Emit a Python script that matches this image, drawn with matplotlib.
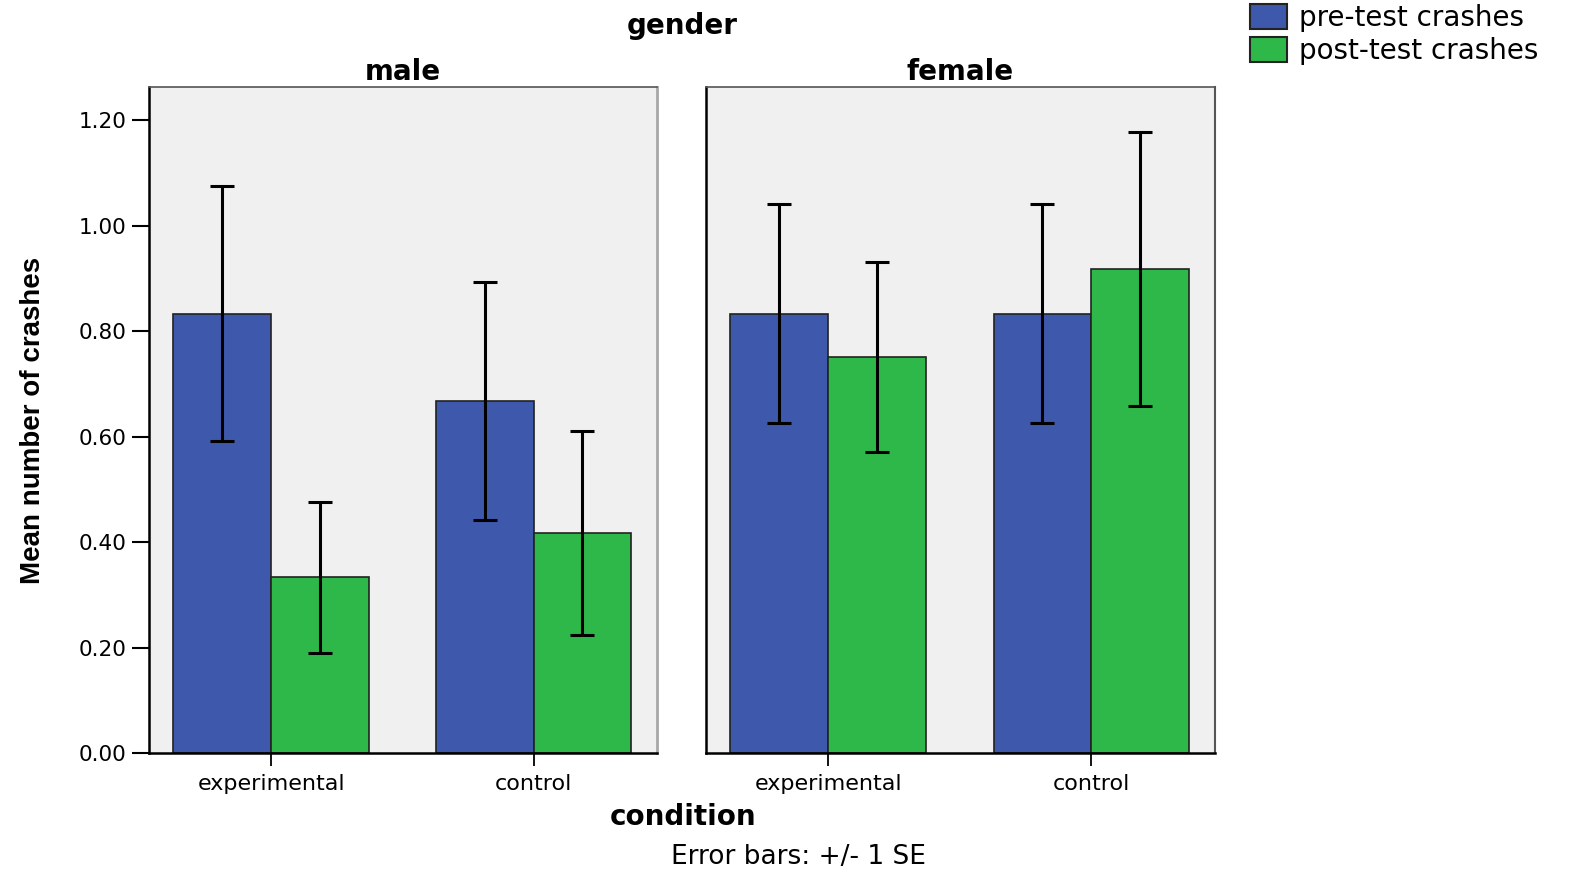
import numpy as np
import matplotlib
matplotlib.use("Agg")
import matplotlib.pyplot as plt
from matplotlib.patches import Patch

# data
genders = ["male", "female"]
conditions = ["experimental", "control"]
pre_means = {"male": [0.833, 0.667], "female": [0.833, 0.833]}
post_means = {"male": [0.333, 0.417], "female": [0.750, 0.917]}
pre_se = {"male": [0.241, 0.225], "female": [0.207, 0.207]}
post_se = {"male": [0.143, 0.193], "female": [0.180, 0.260]}
yticks = [0.0, 0.2, 0.4, 0.6, 0.8, 1.0, 1.2]

blue = "#3E58AC"
green = "#2FB84A"
panel_bg = "#F0F0F0"

plt.rcParams["font.family"] = ["DejaVu Sans"]

fig = plt.figure(figsize=(15.81, 8.69), dpi=100)
W, H = 1581, 869
bottom, top = 753, 87
axes = []
for left_px, right_px in [(149, 657), (706, 1215)]:
    ax = fig.add_axes([left_px / W, 1 - bottom / H, (right_px - left_px) / W, (bottom - top) / H])
    axes.append(ax)

x = np.arange(len(conditions))
bw = 0.372
for i, (ax, g) in enumerate(zip(axes, genders)):
    ax.set_facecolor(panel_bg)
    ax.bar(x - bw / 2, pre_means[g], bw, color=blue, edgecolor="#222222", linewidth=1.2, zorder=2)
    ax.bar(x + bw / 2, post_means[g], bw, color=green, edgecolor="#222222", linewidth=1.2, zorder=2)
    ax.errorbar(x - bw / 2, pre_means[g], yerr=pre_se[g], fmt="none", ecolor="black",
                elinewidth=2.2, capsize=8.5, capthick=2.2, zorder=3)
    ax.errorbar(x + bw / 2, post_means[g], yerr=post_se[g], fmt="none", ecolor="black",
                elinewidth=2.2, capsize=8.5, capthick=2.2, zorder=3)
    ax.set_xlim(-0.465, 1.47)
    ax.set_ylim(0, 1.2626)
    ax.set_xticks(x)
    ax.set_xticklabels(conditions, fontsize=16)
    ax.tick_params(axis="x", length=9, width=1.3, pad=6)
    ax.set_title(g, fontsize=20, fontweight="bold", pad=5)
    ax.spines["bottom"].set_linewidth(1.8)
    ax.spines["top"].set_color("#555555")
    ax.spines["top"].set_linewidth(1.2)
    if i == 0:
        ax.set_yticks(yticks)
        ax.set_yticklabels([f"{v:.2f}" for v in yticks], fontsize=15.5)
        ax.tick_params(axis="y", length=12, width=1.5, pad=4)
        ax.spines["left"].set_linewidth(1.8)
        ax.spines["right"].set_color("#A8A8A8")
        ax.spines["right"].set_linewidth(2)
    else:
        ax.set_yticks([])
        ax.spines["left"].set_linewidth(1.8)
        ax.spines["right"].set_color("#555555")
        ax.spines["right"].set_linewidth(1.5)

fig.text(33 / W, 1 - 420 / H, "Mean number of crashes", rotation=90, ha="center",
         va="center", fontsize=20, fontweight="bold", family="Liberation Sans")
fig.text(682 / W, 1 - 26 / H, "gender", ha="center", va="center", fontsize=20,
         fontweight="bold")
fig.text(683 / W, 1 - 817 / H, "condition", ha="center", va="center", fontsize=20,
         fontweight="bold")
fig.text(798 / W, 1 - 857 / H, "Error bars: +/- 1 SE", ha="center", va="center",
         fontsize=19)

handles = [Patch(facecolor=blue, edgecolor="#222222", linewidth=1.5),
           Patch(facecolor=green, edgecolor="#222222", linewidth=1.5)]
fig.legend(handles, ["pre-test crashes", "post-test crashes"], loc="upper left",
           bbox_to_anchor=(1250 / W, 1 - 4 / H), frameon=False,
           handlelength=1.33, handleheight=0.97, handletextpad=0.45, labelspacing=0.18,
           borderaxespad=0, borderpad=0, prop={"family": "DejaVu Sans", "size": 20})

fig.savefig("out.png", dpi=100)
